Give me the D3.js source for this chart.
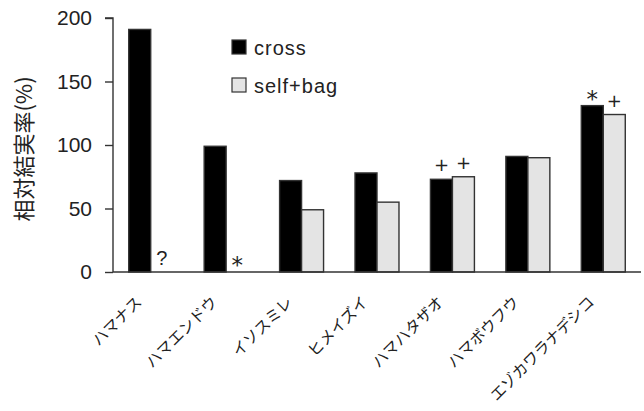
<!DOCTYPE html>
<html>
<head>
<meta charset="utf-8">
<script src="https://cdn.jsdelivr.net/npm/d3@7"></script>
<style>
  html, body { margin: 0; padding: 0; background: #fff; }
  svg { display: block; }
  text { fill: #222; }
</style>
</head>
<body>
<div id="chart"></div>
<script>
// Species and relative fruit-set rates (%)
const categories = ["ハマナス", "ハマエンドウ", "イソスミレ", "ヒメイズイ", "ハマハタザオ", "ハマボウフウ", "エゾカワラナデシコ"];
const crossValues = [191, 99, 72, 78, 73, 91, 131];
const selfBagValues = [null, null, 49, 55, 75, 90, 124];
// Significance marks above each bar
const crossMarks = ["", "", "", "", "+", "", "*"];
const selfBagMarks = ["?", "*", "", "", "+", "", "+"];
const seriesNames = ["cross", "self+bag"];
const yTicks = [0, 50, 100, 150, 200];
const yLabel = "相対結実率(%)";

const W = 644, H = 411;
const plot = { left: 113, right: 641, top: 18, bottom: 272 };
const jp = "'Noto Sans CJK JP', 'Noto Sans', sans-serif";
const latin = "'Liberation Sans', Arial, sans-serif";
const dejavu = "'DejaVu Sans', sans-serif";

const svg = d3.select("#chart").append("svg").attr("width", W).attr("height", H);

const x0 = d3.scaleBand().domain(categories).range([plot.left, plot.right]).paddingInner(0.417).paddingOuter(0.2085);
const x1 = d3.scaleBand().domain(seriesNames).range([0, x0.bandwidth()]);
const y = d3.scaleLinear().domain([0, 200]).range([plot.bottom, plot.top]);

const fills = { "cross": "#000", "self+bag": "#e4e4e4" };
// Per-symbol font and baseline offset above the bar top
const markStyle = {
  "*": { font: dejavu, size: 23, off: -1 },
  "+": { font: dejavu, size: 18, off: 8 },
  "?": { font: latin, size: 20, off: 7 }
};

// Bars
categories.forEach((c, i) => {
  const vals = [crossValues[i], selfBagValues[i]];
  seriesNames.forEach((s, j) => {
    if (vals[j] == null) return;
    svg.append("rect")
      .attr("x", x0(c) + x1(s))
      .attr("y", y(vals[j]))
      .attr("width", x1.bandwidth())
      .attr("height", y(0) - y(vals[j]))
      .attr("fill", fills[s])
      .attr("stroke", "#333")
      .attr("stroke-width", 1.4);
  });
  // Marks
  const marks = [crossMarks[i], selfBagMarks[i]];
  seriesNames.forEach((s, j) => {
    const m = marks[j];
    if (!m) return;
    const v = vals[j] == null ? 0 : vals[j];
    const st = markStyle[m];
    svg.append("text")
      .attr("x", x0(c) + x1(s) + x1.bandwidth() / 2)
      .attr("y", y(v) - st.off)
      .attr("text-anchor", "middle")
      .attr("font-family", st.font)
      .attr("font-size", st.size)
      .style("fill", "#222")
      .text(m);
  });
});

// Y axis
const yAxis = svg.append("g")
  .attr("transform", `translate(${plot.left},0)`)
  .call(d3.axisLeft(y).tickValues(yTicks).tickSize(8).tickPadding(13));
yAxis.selectAll("path, line").attr("stroke", "#333").attr("stroke-width", 1.4);
yAxis.select(".domain").attr("d", `M-8,${plot.top}H0V${plot.bottom}`);
yAxis.selectAll("text").attr("font-family", latin).attr("font-size", 21).style("fill", "#222");

// X axis baseline
svg.append("line")
  .attr("x1", plot.left).attr("x2", plot.right)
  .attr("y1", plot.bottom).attr("y2", plot.bottom)
  .attr("stroke", "#333").attr("stroke-width", 1.4);

// Category labels, rotated
categories.forEach(c => {
  const cx = x0(c) + x0.bandwidth() / 2 - 8;
  const cy = plot.bottom + 31;
  svg.append("text")
    .attr("transform", `translate(${cx},${cy}) rotate(-45)`)
    .attr("text-anchor", "end")
    .attr("font-family", jp)
    .attr("font-size", 15.5)
    .text(c);
});

// Y axis title
svg.append("text")
  .attr("transform", `translate(22,149) rotate(-90)`)
  .attr("text-anchor", "middle")
  .attr("dominant-baseline", "central")
  .attr("font-family", jp)
  .attr("font-size", 22)
  .text(yLabel);

// Legend
const legend = svg.append("g");
seriesNames.forEach((s, i) => {
  const ly = 40 + i * 38;
  legend.append("rect")
    .attr("x", 232).attr("y", ly)
    .attr("width", 14).attr("height", 14)
    .attr("fill", fills[s]).attr("stroke", "#333").attr("stroke-width", 1.2);
  legend.append("text")
    .attr("x", 254).attr("y", ly + 15)
    .attr("font-family", latin)
    .attr("font-size", 20)
    .attr("letter-spacing", 1)
    .text(s);
});
</script>
</body>
</html>
